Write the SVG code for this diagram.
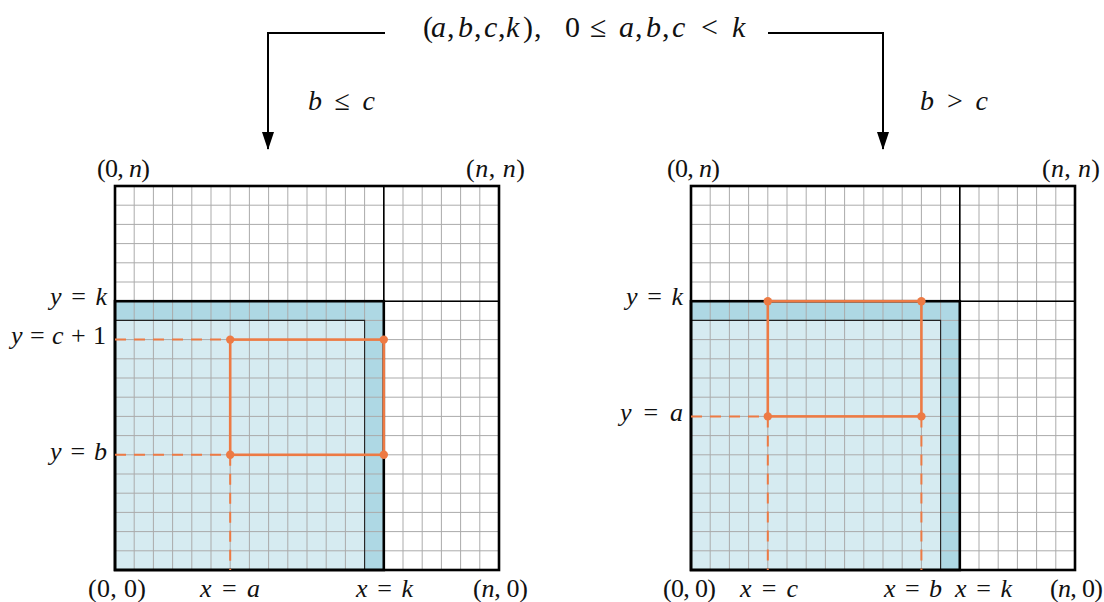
<svg xmlns="http://www.w3.org/2000/svg" xmlns:xlink="http://www.w3.org/1999/xlink" width="1104" height="602" viewBox="0 0 1104 602">
<style>
  text { font-family: "Liberation Serif", "DejaVu Serif", serif; font-size: 26px; fill: #111; }
  .t { font-size: 30px; }
  .c { font-size: 28px; }
  .v { font-style: italic; }
  .gl { fill: none; stroke: #ababab; stroke-width: 1; }
  .lt { fill: #d6ebf1; }
  .dk { fill: #aed8e4; }
  .thin { fill: none; stroke: #222; stroke-width: 1.1; }
  .kl { fill: none; stroke: #000; stroke-width: 1.6; }
  .bd { fill: none; stroke: #000; stroke-width: 2.6; }
  .or { fill: none; stroke: #ed7a44; stroke-width: 2.6; }
  .od { fill: none; stroke: #ed7a44; stroke-width: 2; stroke-dasharray: 11 8; }
  .dot { fill: #ed7a44; }
  .arr { fill: none; stroke: #000; stroke-width: 2; }
</style>
<defs>
  <marker id="ah" markerWidth="18" markerHeight="12" refX="17" refY="6" orient="auto" markerUnits="userSpaceOnUse" viewBox="0 0 18 12">
    <path d="M0 0 L18 6 L0 12 Z" fill="#000"/>
  </marker>
  <path id="gridlines" class="gl" d="M19.2 0V384M38.4 0V384M57.6 0V384M76.8 0V384M96 0V384M115.2 0V384M134.4 0V384M153.6 0V384M172.8 0V384M192 0V384M211.2 0V384M230.4 0V384M249.6 0V384M268.8 0V384M288 0V384M307.2 0V384M326.4 0V384M345.6 0V384M364.8 0V384M0 19.2H384M0 38.4H384M0 57.6H384M0 76.8H384M0 96H384M0 115.2H384M0 134.4H384M0 153.6H384M0 172.8H384M0 192H384M0 211.2H384M0 230.4H384M0 249.6H384M0 268.8H384M0 288H384M0 307.2H384M0 326.4H384M0 345.6H384M0 364.8H384"/>
  <g id="board">
    <rect x="0" y="0" width="384" height="384" fill="#fff"/>
    <rect class="lt" x="0" y="115.2" width="268.8" height="268.8"/>
    <rect class="dk" x="0" y="115.2" width="268.8" height="19.2"/>
    <rect class="dk" x="249.6" y="134.4" width="19.2" height="249.6"/>
    <use xlink:href="#gridlines"/>
    <path class="thin" d="M0 134.4H249.6V384"/>
    <path class="kl" d="M268.8 0V115.2M268.8 115.2H384"/>
    <rect class="bd" x="0" y="115.2" width="268.8" height="268.8"/>
    <rect class="bd" x="0" y="0" width="384" height="384"/>
  </g>
</defs>

<g id="title">
  <text class="t" y="37"><tspan x="423">(</tspan><tspan x="431" class="v">a</tspan><tspan x="447">,</tspan><tspan x="458" class="v">b</tspan><tspan x="474">,</tspan><tspan x="484" class="v">c</tspan><tspan x="498">,</tspan><tspan x="506" class="v">k</tspan><tspan x="523">)</tspan><tspan x="534">,</tspan><tspan x="565">0</tspan><tspan x="590">≤</tspan><tspan x="619" class="v">a</tspan><tspan x="635">,</tspan><tspan x="646" class="v">b</tspan><tspan x="662">,</tspan><tspan x="672" class="v">c</tspan><tspan x="701">&lt;</tspan><tspan x="732" class="v">k</tspan></text>
</g>

<g id="connectors">
  <path class="arr" d="M385 33H268V149" marker-end="url(#ah)"/>
  <path class="arr" d="M768 33H883V149" marker-end="url(#ah)"/>
  <text class="c" x="308" y="110" textLength="67" lengthAdjust="spacing"><tspan class="v">b</tspan> ≤ <tspan class="v">c</tspan></text>
  <text class="c" x="920" y="110" textLength="68" lengthAdjust="spacing"><tspan class="v">b</tspan> &gt; <tspan class="v">c</tspan></text>
</g>

<g id="left-grid">
  <use xlink:href="#board" x="115" y="186"/>
  <path class="od" d="M115 339.6H230.2M115 454.8H230.2M230.2 454.8V570"/>
  <rect class="or" x="230.2" y="339.6" width="153.6" height="115.2"/>
  <circle class="dot" cx="230.2" cy="339.6" r="4.2"/>
  <circle class="dot" cx="383.8" cy="339.6" r="4.2"/>
  <circle class="dot" cx="230.2" cy="454.8" r="4.2"/>
  <circle class="dot" cx="383.8" cy="454.8" r="4.2"/>
  <text x="97" y="177" textLength="53" lengthAdjust="spacing">(0, <tspan class="v">n</tspan>)</text>
  <text x="466" y="177" textLength="59" lengthAdjust="spacing">(<tspan class="v">n</tspan>, <tspan class="v">n</tspan>)</text>
  <text x="50" y="305" textLength="57" lengthAdjust="spacing"><tspan class="v">y</tspan> = <tspan class="v">k</tspan></text>
  <text x="11" y="344" textLength="95" lengthAdjust="spacing"><tspan class="v">y</tspan> = <tspan class="v">c</tspan> + 1</text>
  <text x="50" y="460" textLength="57" lengthAdjust="spacing"><tspan class="v">y</tspan> = <tspan class="v">b</tspan></text>
  <text x="88" y="597" textLength="58" lengthAdjust="spacing">(0, 0)</text>
  <text x="200" y="597" textLength="60" lengthAdjust="spacing"><tspan class="v">x</tspan> = <tspan class="v">a</tspan></text>
  <text x="356" y="597" textLength="57" lengthAdjust="spacing"><tspan class="v">x</tspan> = <tspan class="v">k</tspan></text>
  <text x="473" y="597" textLength="55" lengthAdjust="spacing">(<tspan class="v">n</tspan>, 0)</text>
</g>

<g id="right-grid">
  <use xlink:href="#board" x="691" y="186"/>
  <path class="od" d="M691 416.4H767.8M767.8 416.4V570M921.4 416.4V570"/>
  <rect class="or" x="767.8" y="301.2" width="153.6" height="115.2"/>
  <circle class="dot" cx="767.8" cy="301.2" r="4.2"/>
  <circle class="dot" cx="921.4" cy="301.2" r="4.2"/>
  <circle class="dot" cx="767.8" cy="416.4" r="4.2"/>
  <circle class="dot" cx="921.4" cy="416.4" r="4.2"/>
  <text x="667" y="177" textLength="53" lengthAdjust="spacing">(0, <tspan class="v">n</tspan>)</text>
  <text x="1042" y="177" textLength="58" lengthAdjust="spacing">(<tspan class="v">n</tspan>, <tspan class="v">n</tspan>)</text>
  <text x="626" y="305" textLength="57" lengthAdjust="spacing"><tspan class="v">y</tspan> = <tspan class="v">k</tspan></text>
  <text x="620" y="421" textLength="63" lengthAdjust="spacing"><tspan class="v">y</tspan> = <tspan class="v">a</tspan></text>
  <text x="663" y="597" textLength="53" lengthAdjust="spacing">(0, 0)</text>
  <text x="740" y="597" textLength="58" lengthAdjust="spacing"><tspan class="v">x</tspan> = <tspan class="v">c</tspan></text>
  <text x="884" y="597" textLength="58" lengthAdjust="spacing"><tspan class="v">x</tspan> = <tspan class="v">b</tspan></text>
  <text x="955" y="597" textLength="57" lengthAdjust="spacing"><tspan class="v">x</tspan> = <tspan class="v">k</tspan></text>
  <text x="1050" y="597" textLength="53" lengthAdjust="spacing">(<tspan class="v">n</tspan>, 0)</text>
</g>
</svg>
